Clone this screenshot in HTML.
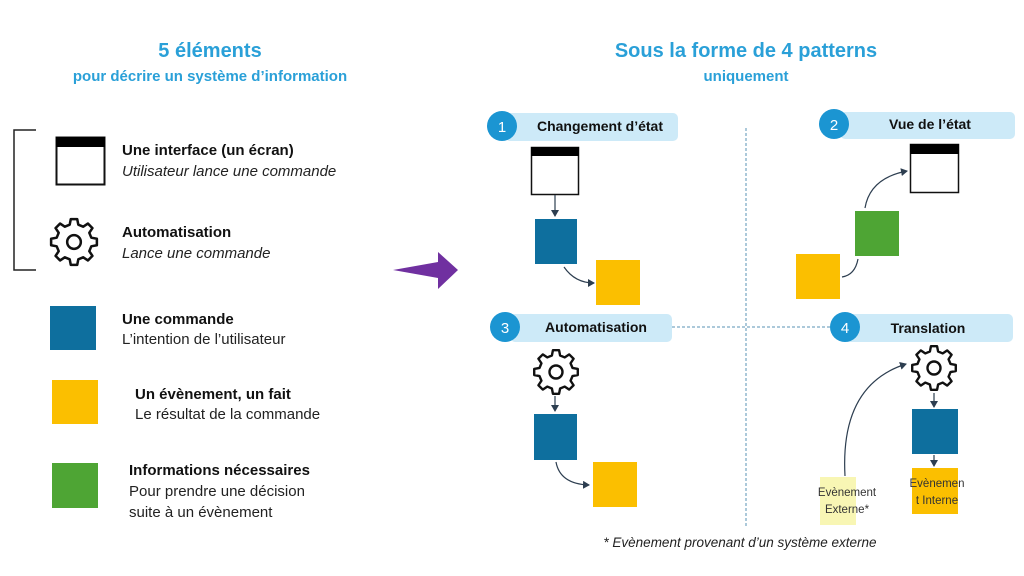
<!DOCTYPE html>
<html><head><meta charset="utf-8"><style>
html,body{margin:0;padding:0;background:#fff;}
svg{display:block;font-family:"Liberation Sans",sans-serif;}
.b{font-weight:bold;fill:#111;font-size:15px}
.n{fill:#222;font-size:15px}
.i{fill:#222;font-size:15px;font-style:italic}
.h{font-weight:bold;fill:#111;font-size:14px}
</style></head><body>
<svg width="1024" height="576" viewBox="0 0 1024 576" xmlns="http://www.w3.org/2000/svg">
<defs>
<g id="gear" fill="none" stroke="#111" stroke-width="2.4" stroke-linejoin="round">
 <polygon points="16.49,-4.11 21.79,-3.06 21.79,3.06 16.49,4.11 14.57,8.76 17.57,13.24 13.24,17.57 8.76,14.57 4.11,16.49 3.06,21.79 -3.06,21.79 -4.11,16.49 -8.76,14.57 -13.24,17.57 -17.57,13.24 -14.57,8.76 -16.49,4.11 -21.79,3.06 -21.79,-3.06 -16.49,-4.11 -14.57,-8.76 -17.57,-13.24 -13.24,-17.57 -8.76,-14.57 -4.11,-16.49 -3.06,-21.79 3.06,-21.79 4.11,-16.49 8.76,-14.57 13.24,-17.57 17.57,-13.24 14.57,-8.76"/>
 <circle r="6.5"/>
</g>
<marker id="ar" markerWidth="8" markerHeight="8" refX="6" refY="4" orient="auto" markerUnits="userSpaceOnUse"><path d="M0,0 L7,4 L0,8 z" fill="#2d3e50"/></marker>
</defs>

<text x="210" y="57" text-anchor="middle" font-size="20" font-weight="bold" fill="#2aa0d8">5 éléments</text>
<text x="210" y="81" text-anchor="middle" font-size="15" font-weight="bold" fill="#2aa0d8">pour décrire un système d’information</text>

<path d="M36,130 H14 V270 H36" fill="none" stroke="#222" stroke-width="1.5"/>
<rect x="56.5" y="137.5" width="48" height="47" fill="#fff" stroke="#111" stroke-width="2"/>
<rect x="56" y="137" width="49" height="10" fill="#000"/>
<text x="122" y="155" class="b">Une interface (un écran)</text>
<text x="122" y="176" class="i">Utilisateur lance une commande</text>
<use href="#gear" transform="translate(74,242) scale(1.05)"/>
<text x="122" y="237" class="b">Automatisation</text>
<text x="122" y="258" class="i">Lance une commande</text>

<rect x="50" y="306" width="46" height="44" fill="#0e6f9e"/>
<text x="122" y="324" class="b">Une commande</text>
<text x="122" y="344" class="n">L’intention de l’utilisateur</text>
<rect x="52" y="380" width="46" height="44" fill="#fbbf00"/>
<text x="135" y="399" class="b">Un évènement, un fait</text>
<text x="135" y="419" class="n">Le résultat de la commande</text>
<rect x="52" y="463" width="46" height="45" fill="#4ea534"/>
<text x="129" y="475" class="b">Informations nécessaires</text>
<text x="129" y="496" class="n">Pour prendre une décision</text>
<text x="129" y="517" class="n">suite à un évènement</text>

<path d="M393,270 L438,262 L438,252 L458,270 L438,289 L438,278 z" fill="#7030a0"/>

<text x="746" y="57" text-anchor="middle" font-size="20" font-weight="bold" fill="#2aa0d8">Sous la forme de 4 patterns</text>
<text x="746" y="81" text-anchor="middle" font-size="15" font-weight="bold" fill="#2aa0d8">uniquement</text>

<line x1="746" y1="128" x2="746" y2="528" stroke="#5a93b5" stroke-width="1" stroke-dasharray="3 2"/>
<line x1="672" y1="327" x2="830" y2="327" stroke="#5a93b5" stroke-width="1" stroke-dasharray="3 2"/>

<rect x="505" y="113" width="173" height="28" rx="5" fill="#cdeaf8"/>
<circle cx="502" cy="126" r="15" fill="#1b95d2"/><text x="502" y="132" text-anchor="middle" fill="#fff" font-size="15">1</text>
<text x="600" y="131" text-anchor="middle" class="h">Changement d’état</text>

<rect x="840" y="112" width="175" height="27" rx="5" fill="#cdeaf8"/>
<circle cx="834" cy="124" r="15" fill="#1b95d2"/><text x="834" y="130" text-anchor="middle" fill="#fff" font-size="15">2</text>
<text x="930" y="129" text-anchor="middle" class="h">Vue de l’état</text>

<rect x="510" y="314" width="162" height="28" rx="5" fill="#cdeaf8"/>
<circle cx="505" cy="327" r="15" fill="#1b95d2"/><text x="505" y="333" text-anchor="middle" fill="#fff" font-size="15">3</text>
<text x="596" y="332" text-anchor="middle" class="h">Automatisation</text>

<rect x="840" y="314" width="173" height="28" rx="5" fill="#cdeaf8"/>
<circle cx="845" cy="327" r="15" fill="#1b95d2"/><text x="845" y="333" text-anchor="middle" fill="#fff" font-size="15">4</text>
<text x="928" y="333" text-anchor="middle" class="h">Translation</text>

<!-- pattern 1 -->
<rect x="531.5" y="147.5" width="47" height="47" fill="#fff" stroke="#111" stroke-width="1.5"/>
<rect x="531" y="147" width="48" height="9" fill="#000"/>
<line x1="555" y1="195" x2="555" y2="216" stroke="#2d3e50" stroke-width="1.2" marker-end="url(#ar)"/>
<rect x="535" y="219" width="42" height="45" fill="#0e6f9e"/>
<path d="M564,267 Q575,283 594,283" fill="none" stroke="#2d3e50" stroke-width="1.2" marker-end="url(#ar)"/>
<rect x="596" y="260" width="44" height="45" fill="#fbbf00"/>

<!-- pattern 2 -->
<rect x="910.5" y="144.5" width="48" height="48" fill="#fff" stroke="#111" stroke-width="1.5"/>
<rect x="910" y="144" width="49" height="10" fill="#000"/>
<rect x="796" y="254" width="44" height="45" fill="#fbbf00"/>
<rect x="855" y="211" width="44" height="45" fill="#4ea534"/>
<path d="M842,277 Q855,275 858,259" fill="none" stroke="#2d3e50" stroke-width="1.2"/>
<path d="M865,208 Q870,178 907,171" fill="none" stroke="#2d3e50" stroke-width="1.2" marker-end="url(#ar)"/>

<!-- pattern 3 -->
<use href="#gear" transform="translate(556,372)"/>
<line x1="555" y1="396" x2="555" y2="411" stroke="#2d3e50" stroke-width="1.2" marker-end="url(#ar)"/>
<rect x="534" y="414" width="43" height="46" fill="#0e6f9e"/>
<path d="M556,462 Q560,484 589,485" fill="none" stroke="#2d3e50" stroke-width="1.2" marker-end="url(#ar)"/>
<rect x="593" y="462" width="44" height="45" fill="#fbbf00"/>

<!-- pattern 4 -->
<use href="#gear" transform="translate(934,368)"/>
<line x1="934" y1="393" x2="934" y2="407" stroke="#2d3e50" stroke-width="1.2" marker-end="url(#ar)"/>
<rect x="912" y="409" width="46" height="45" fill="#0e6f9e"/>
<line x1="934" y1="455" x2="934" y2="466" stroke="#2d3e50" stroke-width="1.2" marker-end="url(#ar)"/>
<rect x="912" y="468" width="46" height="46" fill="#fbbf00"/>
<text x="937" y="487" text-anchor="middle" font-size="11.5" fill="#333">Evènemen</text>
<text x="937" y="504" text-anchor="middle" font-size="11.5" fill="#333">t Interne</text>
<rect x="820" y="477" width="36" height="48" fill="#f8f6b4"/>
<text x="847" y="496" text-anchor="middle" font-size="11.5" fill="#333">Evènement</text>
<text x="847" y="513" text-anchor="middle" font-size="11.5" fill="#333">Externe*</text>
<path d="M845,476 Q840,385 906,364" fill="none" stroke="#2d3e50" stroke-width="1.2" marker-end="url(#ar)"/>

<text x="740" y="547" text-anchor="middle" font-size="13.5" font-style="italic" fill="#222">* Evènement provenant d’un système externe</text>
</svg>
</body></html>
